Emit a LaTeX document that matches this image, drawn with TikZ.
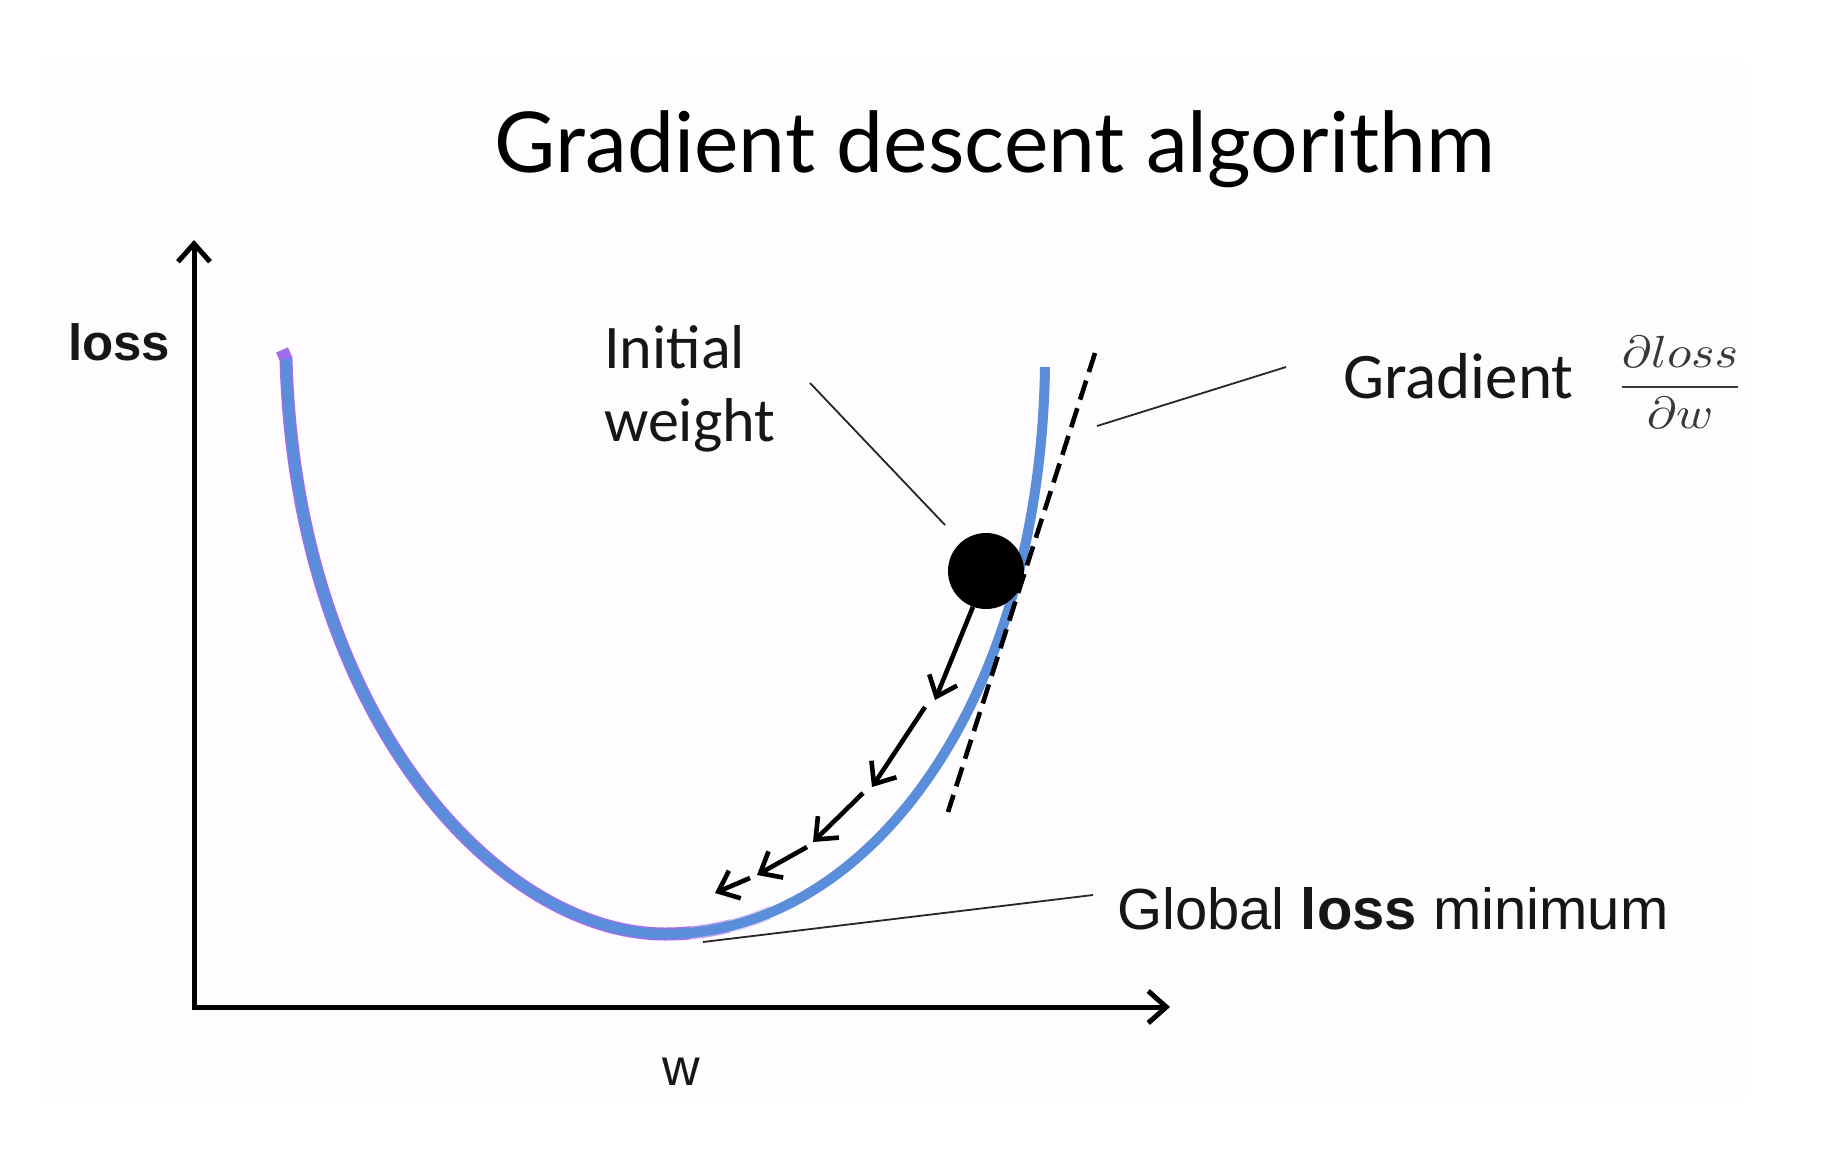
\documentclass[tikz,border=0pt]{standalone}
\usepackage{amsmath}
\usepackage{fontspec}
\setmainfont{Liberation Sans}
\newfontfamily\titlefont{Lato}
\newfontfamily\calfont{Carlito}
\usetikzlibrary{arrows.meta}

\definecolor{curveblue}{RGB}{90,142,218}
\definecolor{curvepurple}{RGB}{160,110,235}
\definecolor{bgpink}{RGB}{254,252,254}
\definecolor{textdark}{RGB}{22,22,22}

\begin{document}
\begin{tikzpicture}[x=1pt,y=-1pt,
  axisline/.style={line width=5pt, {Straight Barb[length=18pt,width=32pt]}-{Straight Barb[length=18pt,width=32pt]}},
  steparrow/.style={line width=4.6pt, -{Straight Barb[length=18pt,width=30pt]}},
  leader/.style={line width=1.8pt, draw=black!85},
  lbl/.style={inner sep=0pt, text=textdark},
  purplerim/.style={curvepurple, line width=13pt}]
\useasboundingbox (0,0) rectangle (1846,1156);
\fill[white] (0,0) rectangle (1846,1156);
\fill[bgpink] (40,63) rectangle (1745,1102);

% title
\node[lbl, text=black, anchor=base, font=\titlefont\fontsize{84}{100}\selectfont] (title) at (995,172) {Gradient descent algorithm};

% axes
\coordinate (ytop) at (194,240);
\coordinate (origin) at (194,1007);
\coordinate (xend) at (1170,1007);
\draw[axisline] (ytop) -- (origin) -- (xend);
\node[lbl, anchor=base west, font=\bfseries\fontsize{51}{60}\selectfont] (ylab) at (68,360) {loss};
\node[lbl, anchor=base, font=\fontsize{52}{60}\selectfont] (xlab) at (681,1085) {w};

% loss curve
\coordinate (cTop) at (286,359);
\coordinate (cMin) at (665,934);
\coordinate (cEnd) at (1045,367);
\begin{scope}
\clip (0,0) rectangle (690,1156);
\draw[purplerim] (282,350) -- (cTop) .. controls (296,720) and (500,934) .. (cMin) .. controls (870,934) and (1040,700) .. (cEnd);
\end{scope}
\begin{scope}
\clip (690,0) rectangle (730,1156);
\draw[purplerim, opacity=0.65] (cMin) .. controls (870,934) and (1040,700) .. (cEnd);
\end{scope}
\begin{scope}
\clip (730,0) rectangle (770,1156);
\draw[purplerim, opacity=0.3] (cMin) .. controls (870,934) and (1040,700) .. (cEnd);
\end{scope}
\draw[curveblue, line width=10pt] (cTop) .. controls (296,720) and (500,934) .. (cMin) .. controls (870,934) and (1040,700) .. (cEnd);

% tangent
\coordinate (tanTop) at (1095,353);
\coordinate (tanBot) at (948,812);
\draw[line width=4.6pt, dash pattern=on 20pt off 9pt] (tanTop) -- (tanBot);

% initial weight dot
\node[circle, fill=black, minimum size=76pt, inner sep=0pt] (dot) at (986,571) {};

% descent steps
\coordinate (t1) at (935,700);
\coordinate (s2) at (925,707);
\coordinate (t2) at (872,787);
\coordinate (s3) at (863,793);
\coordinate (t3) at (813,842);
\coordinate (s4) at (807,847);
\coordinate (t4) at (757,875);
\coordinate (s5) at (750,878);
\coordinate (t5) at (715,893);
\draw[steparrow] (dot.250) -- (t1);
\draw[steparrow] (s2) -- (t2);
\draw[steparrow] (s3) -- (t3);
\draw[steparrow] (s4) -- (t4);
\draw[steparrow] (s5) -- (t5);

% labels
\node[lbl, anchor=base west, font=\calfont\fontsize{62}{70}\selectfont] (iw1) at (604,368) {Initial};
\node[lbl, anchor=base west, font=\calfont\fontsize{62}{70}\selectfont] (iw2) at (604,441) {weight};
\coordinate (iwA) at (810,383);
\coordinate (iwB) at (945,525);
\draw[leader] (iwA) -- (iwB);

\node[lbl, anchor=base west, font=\calfont\fontsize{65}{70}\selectfont] (grad) at (1343,398) {Gradient};
\node[lbl, text=black!78, anchor=base] (frac) at (1680,398) {\scalebox{5.0}[4.5]{$\dfrac{\partial loss}{\partial w}$}};
\coordinate (gA) at (1286,367);
\coordinate (gB) at (1097,426);
\draw[leader] (gA) -- (gB);

\node[lbl, anchor=base west, font=\fontsize{58}{64}\selectfont] (glob) at (1117,929) {Global \textbf{loss} minimum};
\coordinate (mA) at (1093,895);
\coordinate (mB) at (703,942);
\draw[leader] (mA) -- (mB);
\end{tikzpicture}
\end{document}
